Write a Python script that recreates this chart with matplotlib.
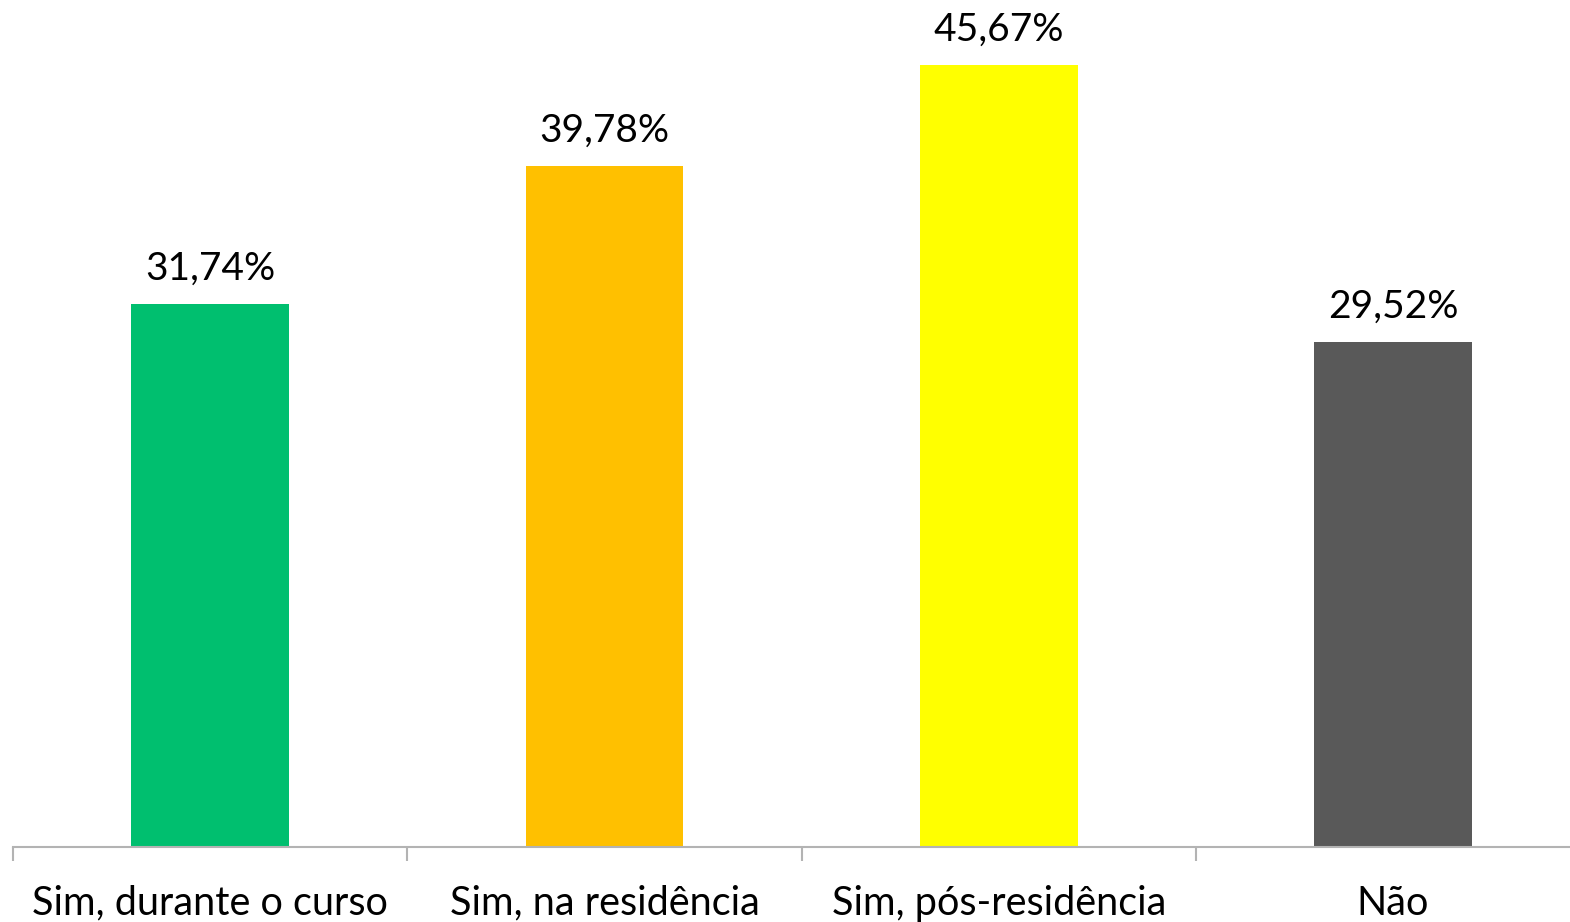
import matplotlib
matplotlib.use("Agg")
import matplotlib.pyplot as plt

categories = ["Sim, durante o curso", "Sim, na residência", "Sim, pós-residência", "Não"]
values = [31.74, 39.78, 45.67, 29.52]
labels = ["31,74%", "39,78%", "45,67%", "29,52%"]
colors = ["#00BF6F", "#FFC000", "#FFFF00", "#595959"]

plt.rcParams['font.family'] = ['Lato', 'DejaVu Sans']

W, H = 1570, 922
fig = plt.figure(figsize=(W / 100, H / 100), dpi=100)
left_px, base_px, cat_w = 13, 847, 394.3
ppu = (847 - 65) / 45.67
ymax = 50
ax = fig.add_axes([left_px / W, (H - base_px) / H, 4 * cat_w / W, ymax * ppu / H])
x = list(range(len(categories)))
ax.bar(x, values, width=0.4, color=colors, zorder=2)
ax.set_xlim(-0.5, 3.5)
ax.set_ylim(0, ymax)
for xi, v, lab in zip(x, values, labels):
    ax.text(xi, v + 1.0, lab, ha="center", va="bottom", fontsize=28, color="black")
for s in ["top", "right", "left"]:
    ax.spines[s].set_visible(False)
ax.spines["bottom"].set_color("#b3b3b3")
ax.spines["bottom"].set_linewidth(1.5)
ax.set_yticks([])
ax.set_xticks([-0.5, 0.5, 1.5, 2.5, 3.5])
ax.set_xticklabels([])
ax.tick_params(axis="x", length=10, width=1.5, color="#b3b3b3", direction="out")
ax.set_xticks(x, minor=True)
ax.set_xticklabels(categories, minor=True, fontsize=28.5)
ax.tick_params(axis="x", which="minor", length=0, pad=27)
fig.savefig("out.png", dpi=100)
